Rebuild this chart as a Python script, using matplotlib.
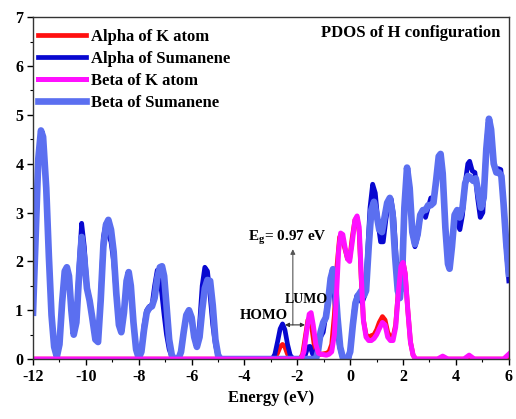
import matplotlib
matplotlib.use("Agg")
import matplotlib.pyplot as plt
from matplotlib.ticker import MultipleLocator

plt.rcParams['font.family'] = ['Liberation Serif', 'DejaVu Serif']
plt.rcParams['font.weight'] = 'bold'
plt.rcParams['axes.unicode_minus'] = False
plt.rcParams['mathtext.fontset'] = 'custom'
plt.rcParams['mathtext.rm'] = 'Liberation Serif:bold'
plt.rcParams['mathtext.bf'] = 'Liberation Serif:bold'

# PDOS (energy in eV, states)
e_beta_sum = [-12.0, -11.9, -11.8, -11.7, -11.62, -11.5, -11.4, -11.3, -11.2, -11.1,
              -11.0, -10.9, -10.8, -10.72, -10.64, -10.55, -10.46, -10.36, -10.26, -10.16,
              -10.06, -9.96, -9.86, -9.76, -9.64, -9.54, -9.44, -9.34, -9.24, -9.15,
              -9.05, -8.95, -8.85, -8.75, -8.66, -8.56, -8.46, -8.38, -8.3, -8.2,
              -8.1, -8.0, -7.9, -7.8, -7.7, -7.6, -7.5, -7.4, -7.3, -7.2,
              -7.12, -7.04, -6.95, -6.85, -6.75, -6.65, -6.5, -6.4, -6.3, -6.2,
              -6.1, -6.0, -5.9, -5.8, -5.7, -5.6, -5.5, -5.4, -5.3, -5.2,
              -5.1, -5.0, -4.9, -1.3, -1.22, -1.12, -1.02, -0.92, -0.84, -0.74,
              -0.65, -0.57, -0.48, -0.38, -0.28, -0.1, 0.0, 0.1, 0.2, 0.3,
              0.42, 0.52, 0.6, 0.7, 0.8, 0.9, 1.0, 1.1, 1.2, 1.3,
              1.4, 1.5, 1.6, 1.7, 1.8, 1.88, 1.97, 2.05, 2.15, 2.25,
              2.35, 2.45, 2.55, 2.65, 2.75, 2.85, 2.95, 3.05, 3.15, 3.25,
              3.35, 3.42, 3.5, 3.6, 3.7, 3.76, 3.85, 3.95, 4.05, 4.15,
              4.25, 4.35, 4.45, 4.55, 4.65, 4.75, 4.85, 4.95, 5.05, 5.15,
              5.25, 5.33, 5.43, 5.53, 5.63, 5.72, 5.8, 5.9, 6.0]
y_beta_sum = [0.95, 2.5, 4.1, 4.68, 4.55, 3.5, 2.1, 0.9, 0.25, 0.05,
              0.3, 1.15, 1.8, 1.88, 1.7, 1.0, 0.5, 0.75, 1.7, 2.5,
              2.05, 1.45, 1.2, 0.85, 0.4, 0.35, 1.2, 2.3, 2.75, 2.85,
              2.65, 2.2, 1.35, 0.7, 0.55, 0.95, 1.6, 1.78, 1.5, 0.75,
              0.2, 0.02, 0.15, 0.6, 0.95, 1.05, 1.08, 1.25, 1.65, 1.88,
              1.9, 1.7, 1.1, 0.4, 0.08, 0.0, 0.0, 0.15, 0.55, 0.9,
              1.0, 0.85, 0.45, 0.25, 0.45, 1.0, 1.45, 1.62, 1.6, 1.1,
              0.4, 0.08, 0.0, 0.0, 0.15, 0.55, 0.75, 0.85, 1.15, 1.65,
              1.84, 1.55, 0.85, 0.25, 0.03, 0.0, 0.15, 0.7, 1.15, 1.3,
              1.4, 1.3, 1.4, 2.3, 3.05, 3.22, 2.95, 2.65, 2.6, 2.9,
              3.2, 3.3, 3.0, 2.1, 1.4, 1.25, 1.8, 3.1, 3.92, 3.5,
              2.6, 2.35, 2.55, 2.95, 3.05, 3.05, 3.15, 3.15, 3.2, 3.65,
              4.15, 4.2, 3.8, 2.7, 1.95, 1.85, 2.3, 2.95, 3.05, 2.9,
              3.1, 3.6, 3.75, 3.72, 3.65, 3.7, 3.4, 3.1, 3.3, 4.3,
              4.92, 4.7, 4.0, 3.82, 3.82, 3.75, 3.2, 2.4, 1.75]

e_alpha_sum = [-12.0, -11.9, -11.8, -11.7, -11.62, -11.5, -11.4, -11.3, -11.2, -11.1,
               -11.0, -10.9, -10.8, -10.72, -10.64, -10.55, -10.46, -10.36, -10.26, -10.16,
               -10.06, -9.96, -9.86, -9.76, -9.64, -9.54, -9.44, -9.34, -9.24, -9.15,
               -9.05, -8.95, -8.85, -8.75, -8.66, -8.56, -8.46, -8.38, -8.3, -8.2,
               -8.1, -8.0, -7.9, -7.8, -7.7, -7.6, -7.5, -7.4, -7.3, -7.2,
               -7.12, -7.04, -6.95, -6.85, -6.75, -6.65, -6.5, -6.4, -6.3, -6.2,
               -6.1, -6.0, -5.9, -5.8, -5.7, -5.6, -5.5, -5.4, -5.3, -5.2,
               -5.1, -5.0, -4.9, -2.95, -2.85, -2.75, -2.65, -2.56, -2.47, -2.37,
               -2.27, -2.15, -1.8, -1.7, -1.6, -1.52, -1.42, -1.32, -1.22, -1.12,
               -1.02, -0.92, -0.82, -0.72, -0.62, -0.52, -0.42, -0.32, -0.2, -0.05,
               0.05, 0.15, 0.25, 0.35, 0.45, 0.55, 0.65, 0.75, 0.85, 0.95,
               1.05, 1.15, 1.25, 1.35, 1.45, 1.55, 1.65, 1.75, 1.85, 1.93,
               2.03, 2.15, 2.25, 2.35, 2.45, 2.55, 2.65, 2.75, 2.85, 2.95,
               3.05, 3.15, 3.25, 3.35, 3.42, 3.5, 3.6, 3.7, 3.76, 3.85,
               3.95, 4.05, 4.15, 4.25, 4.35, 4.45, 4.52, 4.62, 4.72, 4.82,
               4.92, 5.02, 5.12, 5.22, 5.3, 5.4, 5.5, 5.6, 5.7, 5.8,
               5.9, 6.0]
y_alpha_sum = [0.95, 2.5, 4.1, 4.65, 4.5, 3.5, 2.1, 0.9, 0.25, 0.05,
               0.3, 1.15, 1.8, 1.85, 1.7, 1.0, 0.5, 0.8, 1.9, 2.78,
               2.3, 1.5, 1.2, 0.85, 0.4, 0.35, 1.3, 2.5, 2.78, 2.55,
               2.4, 2.0, 1.3, 0.7, 0.55, 0.95, 1.6, 1.75, 1.5, 0.75,
               0.2, 0.02, 0.2, 0.7, 1.0, 1.08, 1.1, 1.5, 1.82, 1.65,
               1.3, 0.9, 0.5, 0.2, 0.05, 0.0, 0.0, 0.15, 0.55, 0.9,
               1.0, 0.85, 0.45, 0.3, 0.7, 1.5, 1.88, 1.8, 1.3, 0.7,
               0.3, 0.05, 0.0, 0.0, 0.1, 0.35, 0.62, 0.72, 0.6, 0.3,
               0.08, 0.0, 0.0, 0.08, 0.25, 0.26, 0.1, 0.12, 0.25, 0.45,
               0.55, 0.9, 1.35, 1.55, 1.45, 0.8, 0.3, 0.08, 0.0, 0.0,
               0.4, 1.0, 1.3, 1.25, 1.15, 1.3, 2.1, 3.1, 3.58, 3.4,
               2.8, 2.4, 2.4, 2.85, 3.2, 3.28, 2.9, 2.0, 1.35, 1.4,
               2.6, 3.9, 3.5, 2.6, 2.3, 2.5, 2.9, 3.05, 2.9, 3.1,
               3.3, 3.2, 3.6, 4.1, 4.18, 3.8, 2.7, 1.95, 1.85, 2.3,
               2.9, 2.8, 2.65, 2.95, 3.6, 4.0, 4.05, 3.85, 3.82, 3.3,
               2.9, 3.0, 4.1, 4.85, 4.8, 4.1, 3.85, 3.9, 3.88, 3.2,
               2.3, 1.6]

e_alpha_k = [-12.0, -2.95, -2.85, -2.75, -2.65, -2.56, -2.47, -2.37, -2.27, -2.15,
             -1.9, -1.8, -1.7, -1.6, -1.52, -1.44, -1.34, -1.24, -1.1, -0.9,
             -0.8, -0.7, -0.6, -0.5, -0.4, -0.32, -0.22, -0.1, -0.02, 0.08,
             0.18, 0.26, 0.34, 0.42, 0.5, 0.6, 0.7, 0.8, 0.9, 1.0,
             1.1, 1.22, 1.32, 1.42, 1.52, 1.62, 1.72, 1.82, 1.92, 2.0,
             2.08, 2.18, 2.28, 2.38, 2.48, 6.0]
y_alpha_k = [0.0, 0.0, 0.03, 0.12, 0.25, 0.3, 0.25, 0.1, 0.02, 0.0,
             0.0, 0.1, 0.45, 0.8, 0.85, 0.6, 0.2, 0.08, 0.1, 0.12,
             0.15, 0.3, 0.9, 1.9, 2.5, 2.55, 2.3, 2.05, 2.05, 2.5,
             2.85, 2.9, 2.6, 1.6, 0.8, 0.5, 0.45, 0.48, 0.5, 0.6,
             0.75, 0.87, 0.8, 0.55, 0.45, 0.45, 0.7, 1.4, 1.95, 2.0,
             1.75, 1.0, 0.35, 0.08, 0.0, 0.0]

e_beta_k = [-12.0, -1.85, -1.75, -1.65, -1.55, -1.48, -1.4, -1.3, -1.2, -1.1,
            -0.9, -0.8, -0.7, -0.6, -0.52, -0.44, -0.36, -0.28, -0.2, -0.1,
            -0.02, 0.08, 0.18, 0.26, 0.34, 0.42, 0.5, 0.6, 0.7, 0.8,
            0.9, 1.0, 1.1, 1.22, 1.32, 1.42, 1.52, 1.62, 1.72, 1.82,
            1.92, 2.0, 2.08, 2.18, 2.28, 2.38, 2.48, 3.3, 3.5, 3.7,
            4.3, 4.5, 4.7, 5.8, 6.0]
y_beta_k = [0.0, 0.0, 0.15, 0.55, 0.92, 0.95, 0.7, 0.3, 0.12, 0.1,
            0.08, 0.1, 0.15, 0.5, 1.3, 2.2, 2.58, 2.55, 2.3, 2.05,
            2.0, 2.4, 2.85, 2.93, 2.7, 1.7, 0.8, 0.45, 0.38, 0.38,
            0.42, 0.5, 0.62, 0.75, 0.7, 0.45, 0.38, 0.38, 0.65, 1.35,
            1.9, 1.98, 1.75, 1.0, 0.35, 0.08, 0.0, 0.0, 0.06, 0.0,
            0.0, 0.08, 0.0, 0.0, 0.1]

fig = plt.figure(figsize=(5.16, 4.19), dpi=100)
ax = fig.add_axes([0.064, 0.143, 0.922, 0.816])

l_ak, = ax.plot(e_alpha_k, y_alpha_k, color='#ff1010', lw=3.4, label='Alpha of K atom')
l_as, = ax.plot(e_alpha_sum, y_alpha_sum, color='#0808d0', lw=3.4, label='Alpha of Sumanene')
l_bs, = ax.plot(e_beta_sum, y_beta_sum, color='#5b6ff0', lw=4.8, label='Beta of Sumanene')
l_bk, = ax.plot(e_beta_k, y_beta_k, color='#ff10ff', lw=3.6, label='Beta of K atom')

ax.set_xlim(-12, 6)
ax.set_ylim(0, 7)
ax.xaxis.set_major_locator(MultipleLocator(2))
ax.xaxis.set_minor_locator(MultipleLocator(1))
ax.yaxis.set_major_locator(MultipleLocator(1))
ax.yaxis.set_minor_locator(MultipleLocator(0.5))
ax.tick_params(which='major', direction='out', length=4, width=1, labelsize=11.5, pad=3)
ax.tick_params(which='minor', direction='out', length=2.5, width=0.8)
for s in ax.spines.values():
    s.set_color('#333333')
    s.set_linewidth(1.0)
ax.set_xlabel('Energy (eV)', fontsize=12, fontweight='bold', labelpad=4)

ax.legend(handles=[l_ak, l_as, l_bk, l_bs], loc='upper left',
          bbox_to_anchor=(0.0105, 0.966), frameon=False, fontsize=12,
          handlelength=2.9, handletextpad=0.3, labelspacing=0.36,
          borderaxespad=0, borderpad=0)

ax.text(0.983, 0.953, 'PDOS of H configuration', transform=ax.transAxes,
        ha='right', va='center', fontsize=12, fontweight='bold')

# band gap annotation
ax.annotate('', xy=(-2.17, 2.25), xytext=(-2.17, 0.70),
            arrowprops=dict(arrowstyle='-|>', color='#555555', lw=0.8,
                            mutation_scale=7, shrinkA=0, shrinkB=0))
ax.annotate('', xy=(-2.47, 0.70), xytext=(-1.71, 0.70),
            arrowprops=dict(arrowstyle='<|-|>', color='#333333', lw=0.8,
                            mutation_scale=6, shrinkA=0, shrinkB=0))
ax.text(-2.39, 2.48, r'E$_{\mathrm{g}}$= 0.97 eV', ha='center', va='center',
        fontsize=11, fontweight='bold')
ax.text(-3.26, 0.90, 'HOMO', ha='center', va='center', fontsize=10.5, fontweight='bold')
ax.text(-1.67, 1.23, 'LUMO', ha='center', va='center', fontsize=10, fontweight='bold')

fig.savefig('out.png', dpi=100)
